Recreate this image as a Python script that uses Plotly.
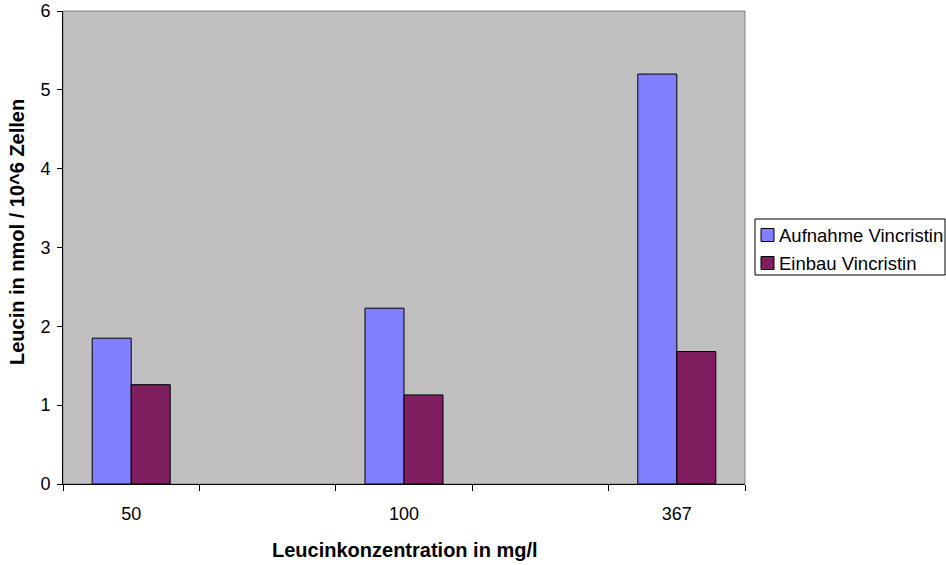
import plotly.graph_objects as go

# Leucine concentration categories (two blank slots spread the groups out)
categories = ["50", " ", "100", "  ", "367"]
bar_categories = ["50", "100", "367"]
series_names = ["Aufnahme Vincristin", "Einbau Vincristin"]
aufnahme = [1.85, 2.23, 5.20]
einbau = [1.26, 1.13, 1.68]
y_ticks = [0, 1, 2, 3, 4, 5, 6]
colors = ["#8080FF", "#7F1F5F"]

FONT = "Liberation Sans, Arial, sans-serif"

W, H = 946, 565
L, R, T, B = 63, 201, 11, 81
plot_w = W - L - R
plot_h = H - T - B


def px_x(px):
    return (px - L) / plot_w


def px_y(py):
    return (H - B - py) / plot_h


fig = go.Figure()
for name, values, color in zip(series_names, [aufnahme, einbau], colors):
    fig.add_trace(go.Bar(
        x=bar_categories, y=values, name=name,
        marker=dict(color=color, line=dict(color="#000000", width=1)),
        showlegend=False,
    ))

# plot-area frame (top/right edges in grey)
fig.add_shape(type="rect", xref="paper", yref="paper", x0=0, x1=1, y0=0, y1=1,
              line=dict(color="#808080", width=1), layer="below")

# legend box at the right of the plot area
box_l, box_r, box_t, box_b = 755, 945, 219, 275
fig.add_shape(type="rect", xref="paper", yref="paper",
              x0=px_x(box_l), x1=px_x(box_r), y0=px_y(box_b), y1=px_y(box_t),
              line=dict(color="#000000", width=1), fillcolor="#FFFFFF", layer="above")
for i, (name, color) in enumerate(zip(series_names, colors)):
    cy = 235 + i * 28
    fig.add_shape(type="rect", xref="paper", yref="paper",
                  x0=px_x(761), x1=px_x(774), y0=px_y(cy + 6.5), y1=px_y(cy - 6.5),
                  line=dict(color="#000000", width=1), fillcolor=color, layer="above")
    fig.add_annotation(text=name, xref="paper", yref="paper",
                       x=px_x(777), y=px_y(cy), showarrow=False,
                       xanchor="left", yanchor="middle",
                       font=dict(family=FONT, size=18.5, color="#000000"))

fig.add_annotation(text="<b>Leucinkonzentration in mg/l</b>", xref="paper", yref="paper",
                   x=px_x(405), y=px_y(550), showarrow=False,
                   font=dict(family=FONT, size=20, color="#000000"),
                   xanchor="center", yanchor="middle")
fig.add_annotation(text="<b>Leucin in nmol / 10^6 Zellen</b>", xref="paper", yref="paper",
                   x=px_x(17), y=px_y(232), showarrow=False, textangle=-90,
                   font=dict(family=FONT, size=20, color="#000000"),
                   xanchor="center", yanchor="middle")

fig.update_layout(
    width=W, height=H,
    margin=dict(l=L, r=R, t=T, b=B, pad=0, autoexpand=False),
    paper_bgcolor="#FFFFFF",
    plot_bgcolor="#C0C0C0",
    barmode="group",
    bargap=0.428,
    bargroupgap=0,
    font=dict(family=FONT, size=18, color="#000000"),
    showlegend=False,
    xaxis=dict(
        type="category", categoryorder="array", categoryarray=categories,
        range=[-0.5, 4.5], tickson="boundaries",
        ticks="outside", ticklen=6, tickcolor="#000000",
        showline=True, linecolor="#000000", linewidth=1,
        showgrid=False, zeroline=False, fixedrange=True, automargin=False,
        ticklabelstandoff=13,
        tickfont=dict(family=FONT, size=18, color="#000000"),
    ),
    yaxis=dict(
        range=[0, 6], tickvals=y_ticks,
        ticks="outside", ticklen=5, tickcolor="#000000",
        showline=True, linecolor="#000000", linewidth=1,
        showgrid=False, zeroline=False, fixedrange=True, automargin=False,
        ticklabelstandoff=3,
        tickfont=dict(family=FONT, size=18, color="#000000"),
    ),
)

fig.write_html("out.html")
